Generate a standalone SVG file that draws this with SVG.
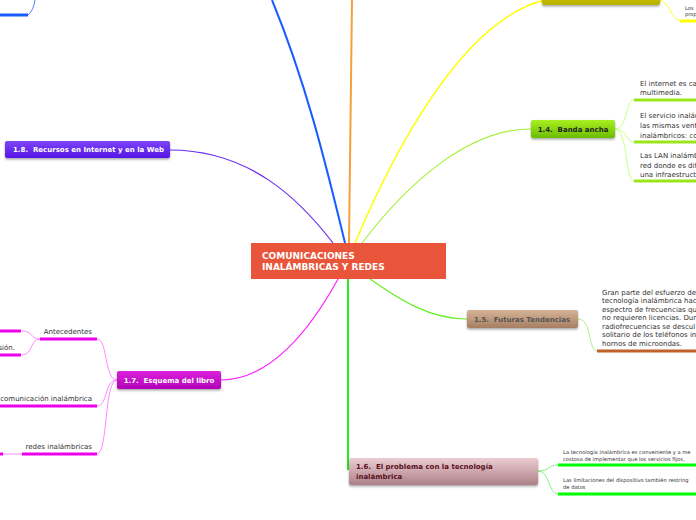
<svg xmlns="http://www.w3.org/2000/svg" width="696" height="520" viewBox="0 0 696 520">
<defs>
<linearGradient id="gLime" x1="0" y1="0" x2="0" y2="1"><stop offset="0" stop-color="#a8ef22"/><stop offset="1" stop-color="#6cbc00"/></linearGradient>
<linearGradient id="gPurple" x1="0" y1="0" x2="0" y2="1"><stop offset="0" stop-color="#7d45f7"/><stop offset="1" stop-color="#5516e6"/></linearGradient>
<linearGradient id="gMag" x1="0" y1="0" x2="0" y2="1"><stop offset="0" stop-color="#dd22dd"/><stop offset="1" stop-color="#b000b8"/></linearGradient>
<linearGradient id="gTan" x1="0" y1="0" x2="0" y2="1"><stop offset="0" stop-color="#d6b497"/><stop offset="1" stop-color="#a67e62"/></linearGradient>
<linearGradient id="gPink" x1="0" y1="0" x2="0" y2="1"><stop offset="0" stop-color="#eccdd1"/><stop offset="1" stop-color="#ad8088"/></linearGradient>
<linearGradient id="gOlive" x1="0" y1="0" x2="0" y2="1"><stop offset="0" stop-color="#d6d000"/><stop offset="1" stop-color="#b8b000"/></linearGradient>
<filter id="sh" x="-10%" y="-20%" width="120%" height="160%"><feDropShadow dx="0" dy="1.5" stdDeviation="1" flood-color="#000" flood-opacity="0.35"/></filter>
</defs>
<style>
text{font-family:"DejaVu Sans",Verdana,sans-serif}
.lbl{font-size:7px;font-weight:bold;white-space:pre}
.t{font-size:7px;fill:#333}
.tiny{font-size:5.2px;fill:#333}
.c{fill:none}
</style>
<rect width="696" height="520" fill="#fff"/>
<g id="connectors">
<path class="c" d="M345,243 C325,160 305,80 272,0" stroke="#1a5cff" stroke-width="2"/>
<path class="c" d="M349,243 C350,160 351,80 352,0" stroke="#f5a03a" stroke-width="2"/>
<path class="c" d="M355,243 C390,160 460,20 545,0" stroke="#ffff00" stroke-width="1.5"/>
<path class="c" d="M362,243 C410,180 470,129 531,129" stroke="#a6f03a" stroke-width="1.2"/>
<path class="c" d="M333,243 C300,200 250,150 170,150" stroke="#6a2cf0" stroke-width="1.2"/>
<path class="c" d="M338,279 C310,330 270,380 221,380" stroke="#ff22ff" stroke-width="1.2"/>
<path class="c" d="M348,279 L348,470" stroke="#22ee22" stroke-width="2"/>
<path class="c" d="M370,279 C400,300 430,319 467,319" stroke="#66ee22" stroke-width="1.2"/>
<path class="c" d="M0,15 L28,15" stroke="#1a5cff" stroke-width="3"/>
<path class="c" d="M28,15 C32,12 34,6 35,0" stroke="#1a5cff" stroke-width="0.8"/>
<path class="c" d="M660,0 C672,4 670,21 682,21" stroke="#ffff00" stroke-width="0.8"/>
<path class="c" d="M680,21 L696,21" stroke="#ffff00" stroke-width="3"/>
<path class="c" d="M615,129 C628,129 625,100 634,100 M615,129 C628,129 625,142 634,142 M615,129 C628,129 625,181 634,181" stroke="#ccff88" stroke-width="1"/>
<path class="c" d="M634,100 L696,100 M634,142 L696,142 M634,181 L696,181" stroke="#9be61a" stroke-width="3"/>
<path class="c" d="M578,319 C592,319 588,351 597,351" stroke="#aaf088" stroke-width="1"/>
<path class="c" d="M597,351 L696,351" stroke="#c0602a" stroke-width="3"/>
<path class="c" d="M538,471 C550,471 548,465 558,465 M538,471 C550,471 548,494 558,494" stroke="#88ee88" stroke-width="1"/>
<path class="c" d="M558,465 L696,465 M558,494 L696,494" stroke="#00ff00" stroke-width="3"/>
<path class="c" d="M117,380 C104,380 108,339 97,339 M117,380 C104,380 108,406 97,406 M117,380 C104,380 108,454 97,454" stroke="#ff88ff" stroke-width="1"/>
<path class="c" d="M40,339 L97,339 M0,406 L97,406 M22,454 L97,454" stroke="#ee00ee" stroke-width="3"/>
<path class="c" d="M40,339 C30,339 33,331 22,331 M40,339 C30,339 33,355 22,355" stroke="#ff88ff" stroke-width="1"/>
<path class="c" d="M0,331 L21,331 M0,355 L21,355 M0,454 L3,454" stroke="#ee00ee" stroke-width="3"/>
<path class="c" d="M3,454 L22,454" stroke="#ff88ff" stroke-width="1"/>
</g>
<g id="top-node"><rect x="542" y="-12" width="118" height="17" rx="2" fill="url(#gOlive)" filter="url(#sh)"/>
<text class="tiny" x="685" y="9.5">Los</text><text class="tiny" x="685" y="16">prop</text></g>
<g id="n-central"><rect x="251" y="243" width="195" height="36" fill="#e9553b"/>
<text x="262" y="259" font-size="9" font-weight="bold" fill="#fff">COMUNICACIONES</text>
<text x="262" y="270" font-size="9" font-weight="bold" fill="#fff">INALÁMBRICAS Y REDES</text></g>
<g id="n-14"><rect x="531" y="120" width="84" height="18" rx="2" fill="url(#gLime)" filter="url(#sh)"/>
<text class="lbl" x="573" y="132" text-anchor="middle" fill="#222">1.4.  Banda ancha</text>
<text class="t" x="640" y="86">El internet es ca</text><text class="t" x="640" y="95">multimedia.</text>
<text class="t" x="640" y="118">El servicio inalám</text><text class="t" x="640" y="128">las mismas vent</text><text class="t" x="640" y="138">inalámbricos: co</text>
<text class="t" x="640" y="158">Las LAN inalámb</text><text class="t" x="640" y="168">red donde es dif</text><text class="t" x="640" y="177">una infraestruct</text></g>
<g id="n-18"><rect x="5" y="141" width="165" height="17" rx="2" fill="url(#gPurple)" filter="url(#sh)"/>
<text class="lbl" x="13" y="152" fill="#fff">1.8.  Recursos en Internet y en la Web</text></g>
<g id="n-15"><rect x="467" y="310" width="111" height="18" rx="2" fill="url(#gTan)" filter="url(#sh)"/>
<text class="lbl" x="522" y="322" text-anchor="middle" fill="#555">1.5.  Futuras Tendencias</text>
<text class="t" x="602" y="295" fill="#555">Gran parte del esfuerzo de</text>
<text class="t" x="602" y="303" fill="#555">tecnología inalámbrica hac</text>
<text class="t" x="602" y="312" fill="#555">espectro de frecuencias qu</text>
<text class="t" x="602" y="320" fill="#555">no requieren licencias. Dur</text>
<text class="t" x="602" y="329" fill="#555">radiofrecuencias se descul</text>
<text class="t" x="602" y="337" fill="#555">solitario de los teléfonos in</text>
<text class="t" x="602" y="346" fill="#555">hornos de microondas.</text></g>
<g id="n-17"><rect x="117" y="371" width="104" height="18" rx="2" fill="url(#gMag)" filter="url(#sh)"/>
<text class="lbl" x="169" y="383" text-anchor="middle" fill="#fff">1.7.  Esquema del libro</text>
<text class="t" x="92" y="334" text-anchor="end">Antecedentes</text>
<text class="t" x="15" y="350" text-anchor="end">sión.</text>
<text class="t" x="92" y="401" text-anchor="end">comunicación inalámbrica</text>
<text class="t" x="92" y="449" text-anchor="end">redes inalámbricas</text></g>
<g id="n-16"><rect x="349" y="458" width="189" height="27" rx="2" fill="url(#gPink)" filter="url(#sh)"/>
<text class="lbl" x="356" y="469" fill="#5a1020">1.6.  El problema con la tecnología</text>
<text class="lbl" x="356" y="479" fill="#5a1020">inalámbrica</text>
<text class="tiny" x="563" y="454">La tecnología inalámbrica es conveniente y a me</text>
<text class="tiny" x="563" y="461">costosa de implementar que los servicios fijos,</text>
<text class="tiny" x="563" y="482">Las limitaciones del dispositivo también restring</text>
<text class="tiny" x="563" y="489">de datos</text></g>
</svg>
